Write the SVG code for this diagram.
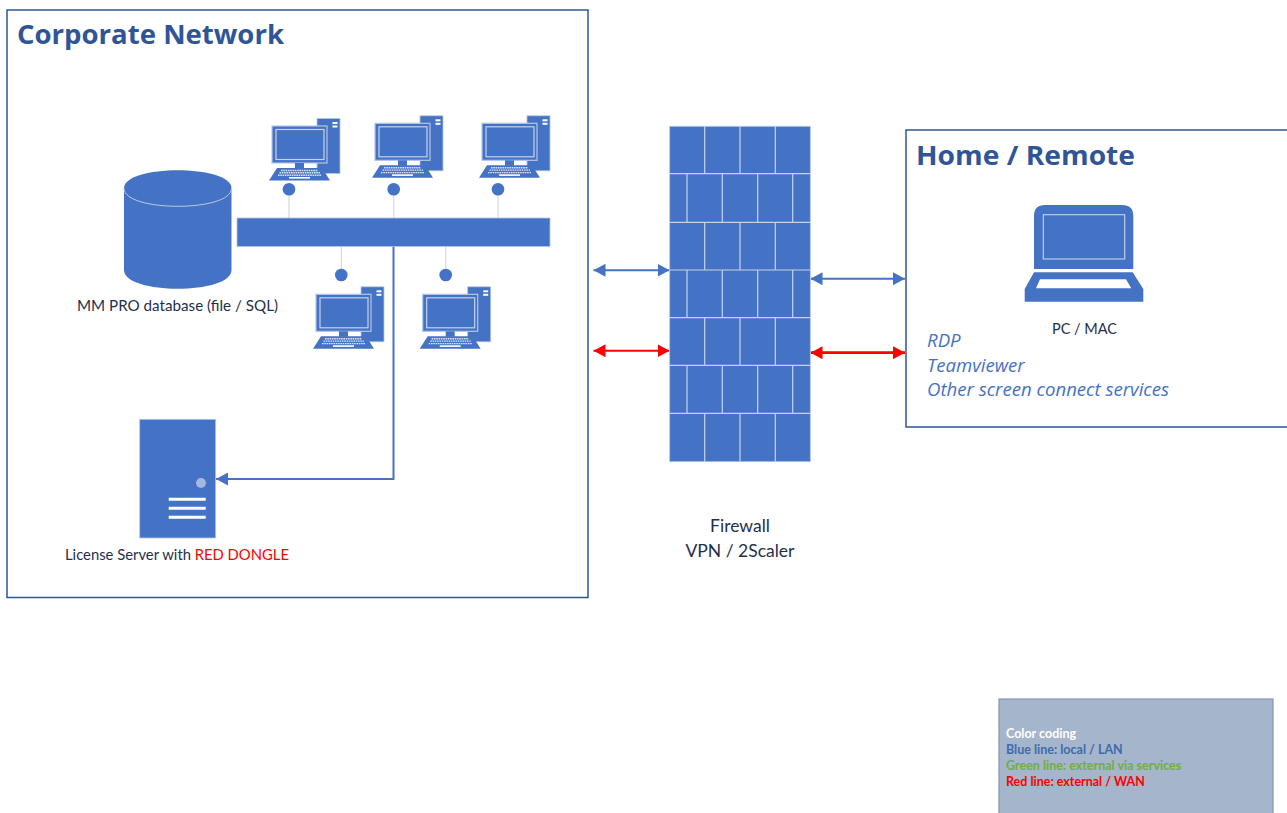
<svg xmlns="http://www.w3.org/2000/svg" xmlns:xlink="http://www.w3.org/1999/xlink" width="1287" height="813" viewBox="0 0 1287 813">
<style>
.frame{fill:#fff;stroke:#2f5597;stroke-width:1.5}
.title{font-family:"Open Sans","Noto Sans",sans-serif;font-weight:700;font-size:27.4px;fill:#2f5597}
.label{font-family:Lato,"Noto Sans",sans-serif;font-size:15px;fill:#1f2f4d}
.fw{font-size:17.5px}
.rdp{font-family:"Open Sans","Noto Sans",sans-serif;font-style:italic;font-size:18.6px;fill:#4472c4}
.leg{font-family:Lato,"Noto Sans",sans-serif;font-weight:700;font-size:12.5px}
.fill{fill:#4472c4}
.edge{fill:#4472c4;stroke:#b4c7e7;stroke-width:.8}
.tap{stroke:#d9d9d9;stroke-width:1.2;fill:none}
.blue{stroke:#4472c4;stroke-width:2;fill:none}
.red{stroke:#ff0000;stroke-width:2;fill:none}
.thick{stroke-width:2.8}
.brick{stroke:#c5d3ee;stroke-width:1.2;fill:none}
</style>
<defs>
<marker id="ab" markerUnits="userSpaceOnUse" markerWidth="12" markerHeight="13" refX="12" refY="6.5" orient="auto-start-reverse"><path d="M0 0L12 6.5L0 13z" fill="#4472c4"/></marker>
<marker id="ar" markerUnits="userSpaceOnUse" markerWidth="12" markerHeight="13" refX="12" refY="6.5" orient="auto-start-reverse"><path d="M0 0L12 6.5L0 13z" fill="#ff0000"/></marker>
<g id="pc">
<rect class="edge" x="317" y="118.5" width="23" height="55"/>
<rect x="332.5" y="122" width="5" height="2" fill="#fff"/><rect x="332.5" y="125.5" width="5" height="2" fill="#fff"/>
<rect class="edge" x="272" y="126" width="55" height="37" style="stroke-width:1.2"/>
<rect x="276" y="129.5" width="48" height="30" fill="none" stroke="#c5d3ee" stroke-width="1.2"/>
<rect class="fill" x="295" y="163" width="9" height="5.5"/>
<path class="fill" d="M277 168H322L330 180.5H269z"/>
<path d="M281 170.5H318M279.5 172.8H320M278 175.3H321.5" stroke="#dbe5f5" stroke-width="1.4" stroke-dasharray="1.6 .7" fill="none"/>
<rect x="289" y="177" width="21" height="1.6" fill="#fff"/>
</g>
</defs>
<rect width="1287" height="813" fill="#fff"/>

<g id="corporate-network"><rect class="frame" x="7" y="10" width="581" height="587.5"/>
<text class="title" x="17" y="43.5" textLength="267" lengthAdjust="spacingAndGlyphs">Corporate Network</text></g>
<g id="home-remote"><rect class="frame" x="906" y="130" width="390" height="297"/>
<text class="title" x="916" y="164.5" textLength="219" lengthAdjust="spacingAndGlyphs">Home / Remote</text></g>

<g id="connectors">
<path class="tap" d="M289 195V218M393.7 195V218M498 195V218M341.3 246V269M445.7 246V269"/>
<path class="blue" d="M393.5 246V479H216" marker-end="url(#ab)"/>
<path class="blue" d="M593.5 270.3H669.5" marker-start="url(#ab)" marker-end="url(#ab)"/>
<path class="red" d="M593.5 350.7H669.5" marker-start="url(#ar)" marker-end="url(#ar)"/>
<path class="blue" d="M810.5 278.7H905" marker-start="url(#ab)" marker-end="url(#ab)"/>
<path class="red thick" d="M810.5 352.7H905" marker-start="url(#ar)" marker-end="url(#ar)"/>
</g>

<g id="database">
<path class="fill" d="M124 188.3C124 164.3 231.5 164.3 231.5 188.3V270C231.5 295 124 295 124 270z"/>
<path d="M124 188.3C124 212.3 231.5 212.3 231.5 188.3" fill="none" stroke="#c5d3ee" stroke-width=".9"/>
<text class="label" x="77" y="311" textLength="201" lengthAdjust="spacingAndGlyphs">MM PRO database (file / SQL)</text></g>

<g id="bus"><rect class="edge" x="237" y="218" width="313" height="28.5"/></g>
<g id="pc1"><use xlink:href="#pc" href="#pc"/><circle class="fill" cx="289" cy="189.3" r="6.3"/></g>
<g id="pc2"><use xlink:href="#pc" href="#pc" transform="translate(103 -2.7)"/><circle class="fill" cx="393.7" cy="189.3" r="6.3"/></g>
<g id="pc3"><use xlink:href="#pc" href="#pc" transform="translate(210 -2.7)"/><circle class="fill" cx="498" cy="189.3" r="6.3"/></g>
<g id="pc4"><use xlink:href="#pc" href="#pc" transform="translate(44 168.3)"/><circle class="fill" cx="341.3" cy="275" r="6.3"/></g>
<g id="pc5"><use xlink:href="#pc" href="#pc" transform="translate(150.7 168.3)"/><circle class="fill" cx="445.7" cy="275" r="6.3"/></g>

<g id="license-server">
<rect class="edge" x="139.7" y="419.3" width="76" height="118.7"/>
<circle cx="201" cy="483" r="5" fill="#a3b8e0"/>
<path d="M168.7 499.3H205.7M168.7 508.3H205.7M168.7 517.3H205.7" stroke="#fff" stroke-width="3" fill="none"/>
<text class="label" x="65" y="560" textLength="224" lengthAdjust="spacingAndGlyphs">License Server with <tspan fill="#ff0000">RED DONGLE</tspan></text></g>

<g id="firewall">
<rect class="edge" x="669.7" y="126.3" width="140.6" height="335.4"/>
<path class="brick" d="M669.7 173.7H810.3M669.7 222.3H810.3M669.7 270H810.3M669.7 317.7H810.3M669.7 365.3H810.3M669.7 413.3H810.3
M704.7 126.3V173.7M740 126.3V173.7M775.3 126.3V173.7
M687 173.7V222.3M722.3 173.7V222.3M757.7 173.7V222.3M792.7 173.7V222.3
M704.7 222.3V270M740 222.3V270M775.3 222.3V270
M687 270V317.7M722.3 270V317.7M757.7 270V317.7M792.7 270V317.7
M704.7 317.7V365.3M740 317.7V365.3M775.3 317.7V365.3
M687 365.3V413.3M722.3 365.3V413.3M757.7 365.3V413.3M792.7 365.3V413.3
M704.7 413.3V461.7M740 413.3V461.7M775.3 413.3V461.7"/>
<text class="label fw" x="740" y="532" text-anchor="middle">Firewall</text>
<text class="label fw" x="740" y="557" text-anchor="middle">VPN / 2Scaler</text></g>

<g id="laptop">
<path class="fill" d="M1034 269V216Q1034 205 1045 205H1122Q1133.3 205 1133.3 216V269z"/>
<rect x="1043.3" y="214.7" width="81.4" height="44.3" fill="none" stroke="#c5d3ee" stroke-width="1.1"/>
<path class="fill" d="M1034 272.3H1132.7L1143.3 289V301.7H1024.7V289z"/>
<path d="M1040 279.3H1126L1131.3 288.3H1036z" fill="#fff"/>
<text class="label" x="1084.5" y="334" text-anchor="middle" style="font-size:14.5px">PC / MAC</text></g>

<g id="remote-services">
<text class="rdp" x="927" y="346.5">RDP</text>
<text class="rdp" x="927" y="371.5">Teamviewer</text>
<text class="rdp" x="927" y="395.5">Other screen connect services</text></g>

<g id="legend">
<rect x="999" y="699" width="274" height="120" fill="#a5b5cc" stroke="#8497b0" stroke-width="1.2"/>
<text class="leg" x="1006" y="738" fill="#fff">Color coding</text>
<text class="leg" x="1006" y="754" fill="#3f6ba8">Blue line: local / LAN</text>
<text class="leg" x="1006" y="770" fill="#70ad47">Green line: external via services</text>
<text class="leg" x="1006" y="786" fill="#ff0000">Red line: external / WAN</text></g>
</svg>
